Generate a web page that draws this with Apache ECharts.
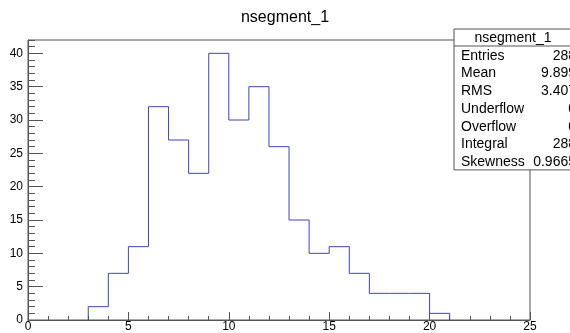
<!DOCTYPE html>
<html>
<head>
<meta charset="utf-8">
<script src="https://cdn.jsdelivr.net/npm/echarts@6/dist/echarts.min.js"></script>
<style>
  html, body { margin: 0; padding: 0; background: #fff; }
  #container { width: 570px; height: 333px; }
</style>
</head>
<body>
<div id="container"></div>
<script>
// histogram nsegment_1: 25 bins from 0 to 25
const binLow = 0;
const binWidth = 1;
const counts = [0, 0, 0, 2, 7, 11, 32, 27, 22, 40, 30, 35, 26, 15, 10, 11, 7, 4, 4, 4, 1, 0, 0, 0, 0];
const statNames = ['Entries', 'Mean', 'RMS', 'Underflow', 'Overflow', 'Integral', 'Skewness'];
const statValues = ['288', '9.899', '3.407', '0', '0', '288', '0.9665'];
const histTitle = 'nsegment_1';

const font = "'Liberation Sans', Arial, sans-serif";
const axisColor = '#555';
const histColor = '#4141c4';

// outline points for a step line, from first to last filled bin
let first = counts.findIndex(v => v > 0);
let last = counts.length - 1;
while (last > 0 && counts[last] === 0) last--;
const outline = [[binLow + first * binWidth, 0]];
for (let i = first; i <= last; i++) {
    outline.push([binLow + i * binWidth, counts[i]]);
}
outline.push([binLow + (last + 1) * binWidth, 0]);

var dom = document.getElementById('container');
var myChart = echarts.init(dom, null, { renderer: 'canvas' });

// stats box (runs off the right edge like the original)
const boxLeft = 454, boxTop = 29, headH = 17, rowH = 17.7;
const boxH = headH + rowH * statNames.length;
const statGraphics = [{
    type: 'rect',
    shape: { x: boxLeft, y: boxTop, width: 140, height: boxH },
    style: { fill: '#fff', stroke: axisColor, lineWidth: 1 },
    z: 100
}, {
    type: 'line',
    shape: { x1: boxLeft, y1: boxTop + headH, x2: 600, y2: boxTop + headH },
    style: { stroke: axisColor, lineWidth: 1 },
    z: 101
}, {
    type: 'text',
    x: 513, y: boxTop + headH / 2 + 1,
    style: { text: histTitle, font: '14px ' + font, fill: '#000', align: 'center', verticalAlign: 'middle' },
    z: 101
}];
statNames.forEach((name, i) => {
    const cy = boxTop + headH + rowH * i + rowH / 2 + 1;
    statGraphics.push({
        type: 'text', x: 461, y: cy,
        style: { text: name, font: '14px ' + font, fill: '#000', verticalAlign: 'middle' },
        z: 101
    });
    statGraphics.push({
        type: 'text', x: 576, y: cy,
        style: { text: statValues[i], font: '14px ' + font, fill: '#000', align: 'right', verticalAlign: 'middle' },
        z: 101
    });
});

var option = {
    animation: false,
    backgroundColor: '#fff',
    title: {
        text: histTitle,
        left: 'center',
        top: 5,
        textStyle: { fontFamily: font, fontWeight: 'normal', fontSize: 16, color: '#000' }
    },
    grid: {
        left: 28, right: 40, top: 40, bottom: 13,
        show: true, borderColor: axisColor, borderWidth: 1
    },
    xAxis: [{
        type: 'value', min: 0, max: 25, interval: 5, position: 'bottom',
        axisLine: { show: true, onZero: false, lineStyle: { color: axisColor } },
        axisTick: { show: true, inside: true, length: 8, lineStyle: { color: axisColor } },
        axisLabel: { fontFamily: font, fontSize: 12, color: '#000', margin: 1 },
        splitLine: { show: false }
    }, {
        type: 'value', min: 0, max: 25, interval: 1, position: 'bottom',
        axisLine: { show: false },
        axisTick: { show: true, inside: true, length: 4, lineStyle: { color: axisColor } },
        axisLabel: { show: false },
        splitLine: { show: false }
    }],
    yAxis: [{
        type: 'value', min: 0, max: 42, interval: 5, position: 'left',
        axisLine: { show: true, onZero: false, lineStyle: { color: axisColor } },
        axisTick: { show: true, inside: true, length: 15, lineStyle: { color: axisColor } },
        axisLabel: { fontFamily: font, fontSize: 12, color: '#000', margin: 5, showMaxLabel: false },
        splitLine: { show: false }
    }, {
        type: 'value', min: 0, max: 42, interval: 1, position: 'left',
        axisLine: { show: false },
        axisTick: { show: true, inside: true, length: 7, lineStyle: { color: axisColor } },
        axisLabel: { show: false },
        splitLine: { show: false }
    }],
    series: [{
        type: 'line',
        xAxisIndex: 0,
        yAxisIndex: 0,
        step: 'end',
        symbol: 'none',
        data: outline,
        lineStyle: { color: histColor, width: 1 },
        z: 10
    }],
    graphic: statGraphics
};

myChart.setOption(option);
window.addEventListener('resize', myChart.resize);
</script>
</body>
</html>
